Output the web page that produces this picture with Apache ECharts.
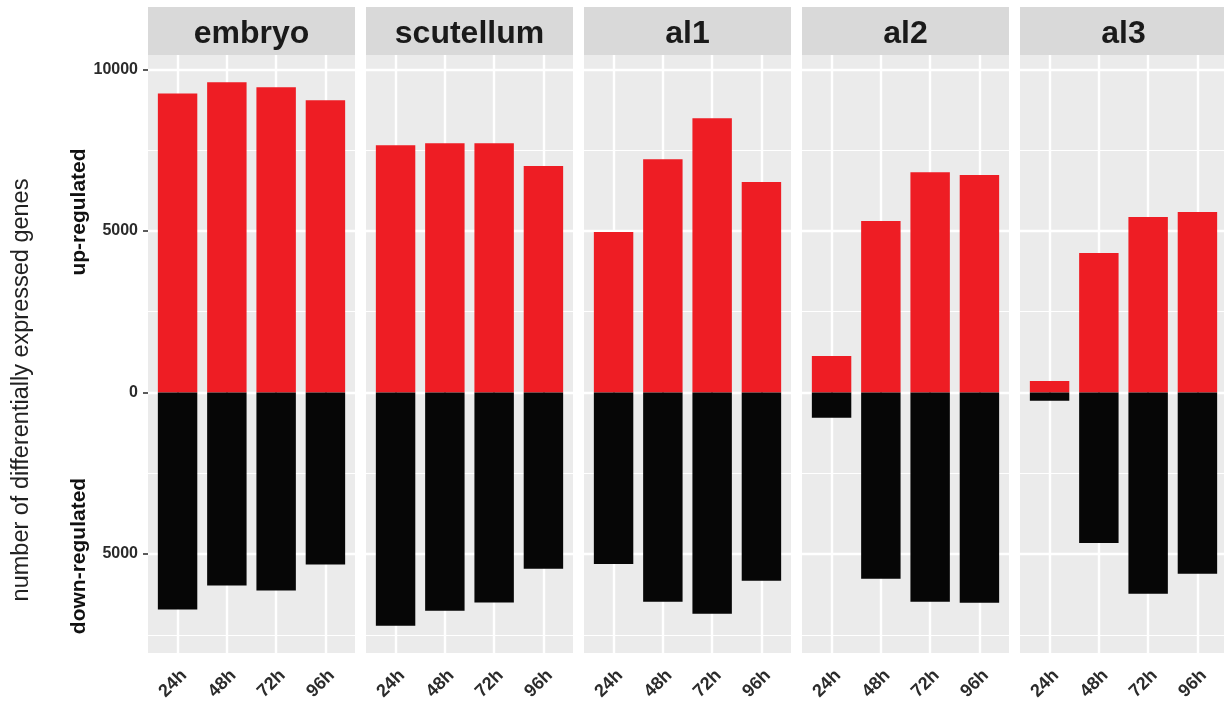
<!DOCTYPE html>
<html><head><meta charset="utf-8">
<script src="https://cdn.jsdelivr.net/npm/echarts@6/dist/echarts.min.js"></script>
<style>html,body{margin:0;padding:0;background:#fff}#c{width:1224px;height:704px}</style>
</head><body><div id="c"></div>
<script>
const tissues = ['embryo', 'scutellum', 'al1', 'al2', 'al3'];
const timepoints = ['24h', '48h', '72h', '96h'];
const upEmbryo = [9255, 9604, 9449, 9047];
const downEmbryo = [6718, 5976, 6130, 5326];
const upScutellum = [7655, 7717, 7717, 7006];
const downScutellum = [7222, 6759, 6502, 5459];
const upAl1 = [4964, 7222, 8490, 6511];
const downAl1 = [5305, 6480, 6851, 5830];
const upAl2 = [1129, 5305, 6820, 6728];
const downAl2 = [779, 5769, 6480, 6511];
const upAl3 = [356, 4315, 5428, 5583];
const downAl3 = [254, 4655, 6233, 5614];
const yTicks = [-5000, 0, 5000, 10000];

const upSets = [upEmbryo, upScutellum, upAl1, upAl2, upAl3];
const downSets = [downEmbryo, downScutellum, downAl1, downAl2, downAl3];

const FONT = 'Liberation Sans';
const RED = '#EE1D24', BLACK = '#060606';
const panelLeft0 = 148, panelStep = 218, panelW = 207, panelTop = 55, panelH = 598;
const stripTop = 7, stripH = 48;

// ggplot-like expansion of the continuous y scale (5% each side)
const allUp = upSets.flat(), allDown = downSets.flat();
const dMax = Math.max(...allUp), dMin = -Math.max(...allDown);
const pad = (dMax - dMin) * 0.05;
const yMin = dMin - pad, yMax = dMax + pad;
// discrete x scale: 0.6 units expansion each side
const xMin = 0.4, xMax = timepoints.length + 0.6;
const xPos = timepoints.map((_, j) => j + 1);
const barW = 0.8 * panelW / (xMax - xMin);

const grids = [], xAxes = [], yAxes = [], series = [], graphics = [];
tissues.forEach((name, i) => {
  const left = panelLeft0 + i * panelStep;
  const w = Math.min(panelW, 1224 - left);
  grids.push({left: left, top: panelTop, width: w, height: panelH, show: true,
    backgroundColor: '#EBEBEB', borderWidth: 0, containLabel: false});
  xAxes.push({type: 'value', gridIndex: i, min: xMin, max: xMax - (panelW - w) / panelW * (xMax - xMin),
    minInterval: 1, maxInterval: 1,
    axisLine: {show: false},
    axisTick: {show: true, length: 5, customValues: xPos, lineStyle: {color: '#333', width: 1.6}},
    axisLabel: {show: true, customValues: xPos,
      formatter: v => timepoints[Math.round(v) - 1] || '', rotate: 45, margin: 26, padding: [0, -9, 0, 0],
      fontSize: 18, fontWeight: 'bold', color: '#2B2B2B', fontFamily: FONT},
    splitLine: {show: true, lineStyle: {color: '#fff', width: 2.4}}
  });
  yAxes.push({type: 'value', gridIndex: i, min: yMin, max: yMax, minInterval: 5000, maxInterval: 5000,
    axisLine: {show: false},
    axisTick: {show: i === 0, length: 5, customValues: yTicks, lineStyle: {color: '#333', width: 1.6}},
    axisLabel: {show: i === 0, customValues: yTicks,
      formatter: v => String(Math.abs(v)), margin: 10,
      fontSize: 16, fontWeight: 'bold', color: '#2B2B2B', fontFamily: FONT},
    splitLine: {show: true, lineStyle: {color: '#fff', width: 2.4}},
    minorTick: {show: false, splitNumber: 2},
    minorSplitLine: {show: true, lineStyle: {color: '#fff', width: 1.2}}
  });
  series.push({type: 'bar', name: 'up', xAxisIndex: i, yAxisIndex: i, barWidth: barW,
    barGap: '-100%', silent: true, itemStyle: {color: RED},
    data: upSets[i].map((v, j) => [xPos[j], v])});
  series.push({type: 'bar', name: 'down', xAxisIndex: i, yAxisIndex: i, barWidth: barW,
    barGap: '-100%', silent: true, itemStyle: {color: BLACK},
    data: downSets[i].map((v, j) => [xPos[j], -v])});
  graphics.push({type: 'rect', shape: {x: left, y: stripTop, width: w, height: stripH}, style: {fill: '#D9D9D9'}, silent: true});
  graphics.push({type: 'text', x: left + panelW / 2, y: stripTop + stripH / 2 + 3,
    style: {text: name, align: 'center', verticalAlign: 'middle', font: 'bold 32px "' + FONT + '"', fill: '#1A1A1A'}, silent: true});
});

graphics.push({type: 'text', x: 22, y: 390, rotation: Math.PI / 2,
  style: {text: 'number of differentially expressed genes', align: 'center', verticalAlign: 'middle',
    font: '23.5px "' + FONT + '"', fill: '#222'}, silent: true});
graphics.push({type: 'text', x: 79, y: 212, rotation: Math.PI / 2,
  style: {text: 'up-regulated', align: 'center', verticalAlign: 'middle',
    font: 'bold 21px "' + FONT + '"', fill: '#111'}, silent: true});
graphics.push({type: 'text', x: 79, y: 556, rotation: Math.PI / 2,
  style: {text: 'down-regulated', align: 'center', verticalAlign: 'middle',
    font: 'bold 21px "' + FONT + '"', fill: '#111'}, silent: true});

const chart = echarts.init(document.getElementById('c'), null, {renderer: 'canvas'});
chart.setOption({
  animation: false,
  backgroundColor: '#fff',
  grid: grids, xAxis: xAxes, yAxis: yAxes, series: series,
  graphic: graphics
});
</script></body></html>
